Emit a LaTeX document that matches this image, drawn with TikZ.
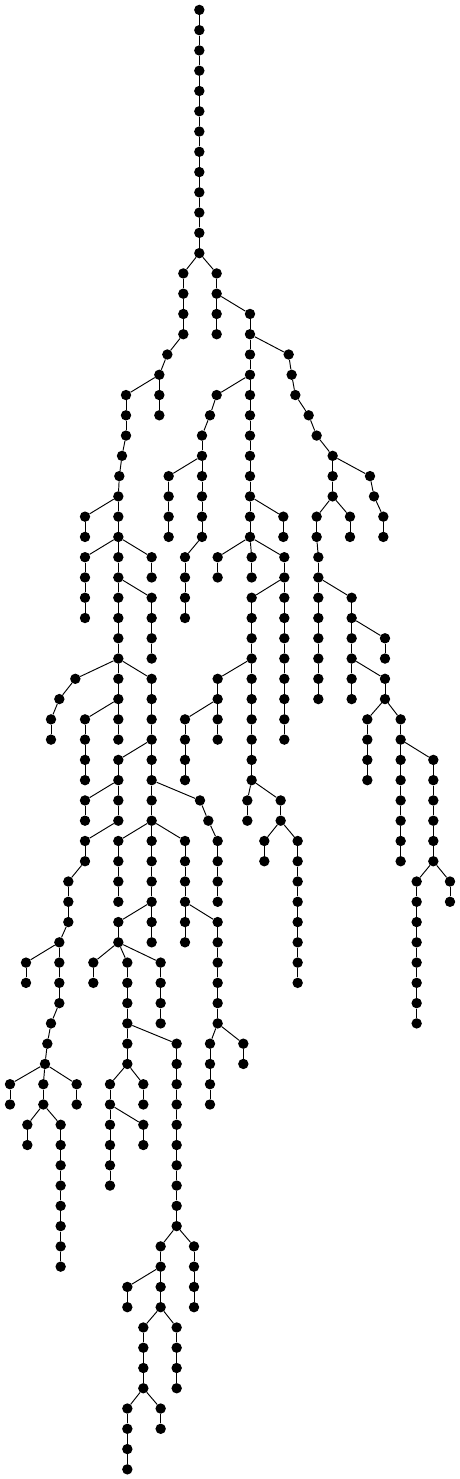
\documentclass[tikz,border=0pt]{standalone}
\begin{document}
\begin{tikzpicture}[x={(0.333333pt,0)},y={(0,-20.27pt)},
  dot/.style={circle,fill=black,draw=none,inner sep=0pt,minimum size=10.4pt},
  edge/.style={line width=0.95pt,black}]
\useasboundingbox (0,0) rectangle (1380,72.965);
\newcommand\mychain[3]{%
  \foreach \l in {#2,...,#3}{\node[dot] (v\l-#1) at (#1,{\l+0.4884}) {};}%
  \foreach \l in {#2,...,#3}{\ifnum\l>#2\relax\pgfmathtruncatemacro\pl{\l-1}\draw[edge] (v\pl-#1) -- (v\l-#1);\fi}%
}
\newcommand\br[4]{\draw[edge] (v#1-#2) -- (v#3-#4);}
% chains
\mychain{598}{0}{12}
\mychain{550}{13}{16}
\mychain{650}{13}{16}
\mychain{750}{15}{26}
\mychain{502}{17}{17}
\mychain{478}{18}{20}
\mychain{866}{17}{17}
\mychain{875}{18}{18}
\mychain{886}{19}{19}
\mychain{926}{20}{20}
\mychain{950}{21}{21}
\mychain{998}{22}{24}
\mychain{1110}{23}{23}
\mychain{1122}{24}{24}
\mychain{1150}{25}{26}
\mychain{950}{25}{26}
\mychain{1050}{25}{26}
\mychain{378}{19}{21}
\mychain{366}{22}{22}
\mychain{358}{23}{23}
\mychain{355}{24}{36}
\mychain{255}{25}{26}
\mychain{255}{27}{30}
\mychain{455}{27}{28}
\mychain{455}{29}{32}
\mychain{455}{33}{46}
\mychain{226}{33}{33}
\mychain{178}{34}{34}
\mychain{153}{35}{36}
\mychain{255}{35}{38}
\mychain{355}{37}{40}
\mychain{255}{39}{40}
\mychain{255}{41}{42}
\mychain{355}{41}{44}
\mychain{555}{41}{46}
\mychain{205}{43}{45}
\mychain{178}{46}{49}
\mychain{78}{47}{48}
\mychain{355}{45}{46}
\mychain{280}{47}{48}
\mychain{382}{47}{52}
\mychain{482}{47}{50}
\mychain{653}{45}{50}
\mychain{153}{50}{50}
\mychain{142}{51}{51}
\mychain{135}{52}{52}
\mychain{30}{53}{54}
\mychain{130}{53}{54}
\mychain{230}{53}{54}
\mychain{82}{55}{56}
\mychain{182}{55}{62}
\mychain{330}{53}{58}
\mychain{430}{53}{54}
\mychain{430}{55}{56}
\mychain{530}{51}{60}
\mychain{630}{51}{54}
\mychain{730}{51}{52}
\mychain{482}{61}{64}
\mychain{582}{61}{64}
\mychain{382}{63}{64}
\mychain{430}{65}{68}
\mychain{530}{65}{68}
\mychain{382}{69}{72}
\mychain{482}{69}{70}
\mychain{650}{19}{19}
\mychain{630}{20}{20}
\mychain{606}{21}{26}
\mychain{506}{23}{26}
\mychain{555}{27}{30}
\mychain{850}{25}{26}
\mychain{653}{27}{28}
\mychain{755}{27}{28}
\mychain{853}{27}{36}
\mychain{955}{27}{34}
\mychain{755}{29}{38}
\mychain{1055}{29}{34}
\mychain{1155}{31}{32}
\mychain{1155}{33}{34}
\mychain{653}{33}{36}
\mychain{555}{35}{38}
\mychain{1102}{35}{38}
\mychain{1202}{35}{42}
\mychain{1300}{37}{42}
\mychain{600}{39}{39}
\mychain{625}{40}{40}
\mychain{653}{41}{44}
\mychain{742}{39}{40}
\mychain{842}{39}{40}
\mychain{793}{41}{42}
\mychain{893}{41}{48}
\mychain{1250}{43}{50}
\mychain{1350}{43}{44}
% branches
\br{12}{598}{13}{550} \br{12}{598}{13}{650}
\br{14}{650}{15}{750}
\br{16}{550}{17}{502} \br{17}{502}{18}{478}
\br{16}{750}{17}{866} \br{17}{866}{18}{875} \br{18}{875}{19}{886}
\br{19}{886}{20}{926} \br{20}{926}{21}{950} \br{21}{950}{22}{998}
\br{22}{998}{23}{1110} \br{23}{1110}{24}{1122} \br{24}{1122}{25}{1150}
\br{24}{998}{25}{950} \br{24}{998}{25}{1050}
\br{26}{950}{27}{955}
\br{18}{478}{19}{378}
\br{21}{378}{22}{366} \br{22}{366}{23}{358} \br{23}{358}{24}{355}
\br{24}{355}{25}{255}
\br{26}{355}{27}{255} \br{26}{355}{27}{455}
\br{28}{355}{29}{455}
\br{32}{355}{33}{226} \br{32}{355}{33}{455}
\br{33}{226}{34}{178} \br{34}{178}{35}{153}
\br{34}{355}{35}{255}
\br{36}{455}{37}{355}
\br{38}{355}{39}{255}
\br{40}{355}{41}{255}
\br{40}{455}{41}{355} \br{40}{455}{41}{555}
\br{42}{255}{43}{205} \br{45}{205}{46}{178}
\br{46}{178}{47}{78}
\br{44}{455}{45}{355}
\br{46}{355}{47}{280} \br{46}{355}{47}{382} \br{46}{355}{47}{482}
\br{44}{555}{45}{653}
\br{49}{178}{50}{153} \br{50}{153}{51}{142} \br{51}{142}{52}{135}
\br{52}{135}{53}{30} \br{52}{135}{53}{130} \br{52}{135}{53}{230}
\br{54}{130}{55}{82} \br{54}{130}{55}{182}
\br{52}{382}{53}{330} \br{52}{382}{53}{430}
\br{54}{330}{55}{430}
\br{50}{382}{51}{530}
\br{50}{653}{51}{630} \br{50}{653}{51}{730}
\br{60}{530}{61}{482} \br{60}{530}{61}{582}
\br{62}{482}{63}{382}
\br{64}{482}{65}{430} \br{64}{482}{65}{530}
\br{68}{430}{69}{382} \br{68}{430}{69}{482}
\br{18}{750}{19}{650} \br{19}{650}{20}{630} \br{20}{630}{21}{606}
\br{22}{606}{23}{506}
\br{26}{606}{27}{555}
\br{24}{750}{25}{850}
\br{26}{750}{27}{653} \br{26}{750}{27}{755} \br{26}{750}{27}{853}
\br{28}{853}{29}{755}
\br{28}{955}{29}{1055}
\br{30}{1055}{31}{1155}
\br{32}{1055}{33}{1155}
\br{32}{755}{33}{653}
\br{34}{653}{35}{555}
\br{34}{1155}{35}{1102} \br{34}{1155}{35}{1202}
\br{36}{1202}{37}{1300}
\br{38}{755}{39}{742} \br{38}{755}{39}{842}
\br{38}{455}{39}{600} \br{39}{600}{40}{625} \br{40}{625}{41}{653}
\br{40}{842}{41}{793} \br{40}{842}{41}{893}
\br{42}{1300}{43}{1250} \br{42}{1300}{43}{1350}
\end{tikzpicture}
\end{document}
